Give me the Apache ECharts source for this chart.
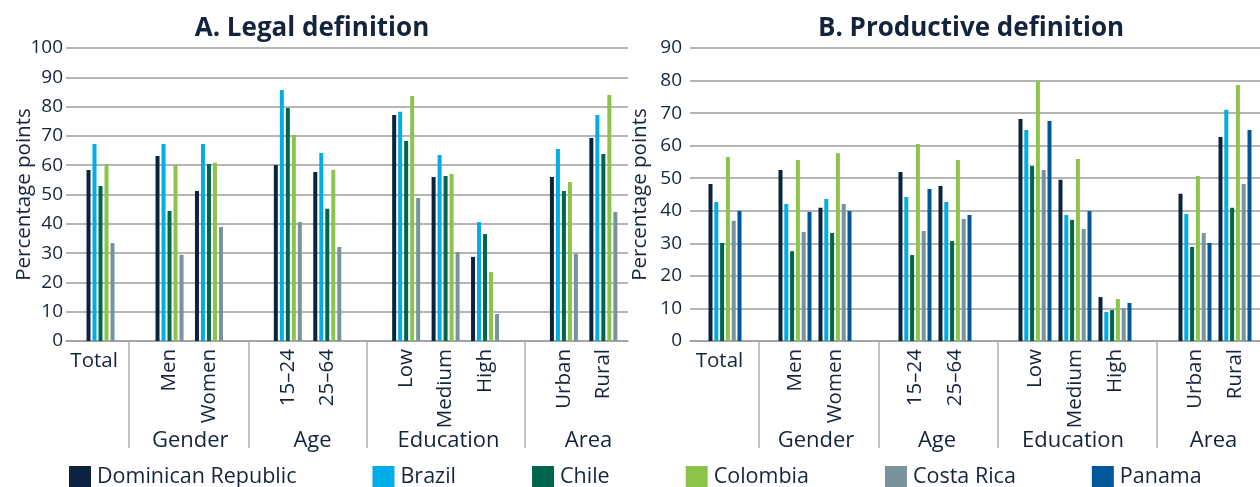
<!DOCTYPE html>
<html>
<head>
<meta charset="utf-8">
<script src="https://cdn.jsdelivr.net/npm/echarts@6/dist/echarts.min.js"></script>
<style>
  html, body { margin: 0; padding: 0; background: #ffffff; }
  #chart { width: 1260px; height: 487px; }
</style>
</head>
<body>
<div id="chart"></div>
<script>
// ---- data ----
const countries = ['Dominican Republic', 'Brazil', 'Chile', 'Colombia', 'Costa Rica', 'Panama'];
const categories = ['Total', 'Men', 'Women', '15–24', '25–64', 'Low', 'Medium', 'High', 'Urban', 'Rural'];
const groupNames = ['Gender', 'Age', 'Education', 'Area'];

// A. Legal definition (no Panama)
const legalDominicanRepublic = [58.4, 63.1, 51.2, 60.1, 57.7, 77.1, 56.0, 28.7, 56.0, 69.3];
const legalBrazil            = [67.2, 67.2, 67.2, 85.7, 64.2, 78.2, 63.5, 40.6, 65.5, 77.1];
const legalChile             = [52.9, 44.4, 60.4, 79.5, 45.1, 68.3, 56.3, 36.5, 51.2, 63.8];
const legalColombia          = [60.4, 60.1, 60.8, 70.3, 58.4, 83.6, 57.0, 23.5, 54.3, 84.0];
const legalCostaRica         = [33.4, 29.4, 38.9, 40.6, 32.1, 48.8, 30.4, 9.2, 29.7, 44.0];

// B. Productive definition
const prodDominicanRepublic = [48.2, 52.5, 40.9, 51.9, 47.6, 68.2, 49.5, 13.5, 45.2, 62.7];
const prodBrazil            = [42.7, 42.1, 43.6, 44.2, 42.7, 64.8, 38.7, 8.9, 39.0, 71.0];
const prodChile             = [30.1, 27.6, 33.2, 26.4, 30.7, 53.8, 37.2, 9.5, 28.9, 40.9];
const prodColombia          = [56.5, 55.6, 57.7, 60.5, 55.6, 80.0, 55.9, 12.9, 50.7, 78.6];
const prodCostaRica         = [36.9, 33.5, 42.1, 33.8, 37.5, 52.5, 34.4, 10.1, 33.2, 48.2];
const prodPanama            = [39.9, 39.6, 39.9, 46.7, 38.7, 67.6, 39.9, 11.7, 30.1, 64.8];

// ---- layout & style ----
const TEXT = '#14243d';
const GRID_LINE = '#9d9d9d';
const FONT = 'Open Sans';
const colors = ['#0c2340', '#00ade6', '#00654f', '#8cc34b', '#78939b', '#00579a'];

// The category axis is split into narrow slots so that sections can be
// separated by gaps; each category sits in one slot.
const SLOT_COUNT = 57;
const SLOT_OF_CATEGORY = [3, 10, 14, 22, 26, 34, 38, 42, 50, 54];

const slotKeys = [];
for (let i = 0; i < SLOT_COUNT; i++) slotKeys.push('_' + i);
SLOT_OF_CATEGORY.forEach((s, k) => { slotKeys[s] = categories[k]; });

function toSlots(values) {
  const out = new Array(SLOT_COUNT).fill(null);
  SLOT_OF_CATEGORY.forEach((s, k) => { out[s] = values[k]; });
  return out;
}

// Section axes, in slot units: spot of the 'Total' label, section name spots, divider ticks
const panels = [
  { title: 'A. Legal definition', titleX: 307, left: 66, width: 562, yMax: 100,
    labelMargin: 3, nameGap: 31,
    totalSpot: 2.85, groupSpots: [12.6, 25.0, 38.8, 53.0], dividers: [6.4, 18.5, 30.5, 46.55],
    series: [legalDominicanRepublic, legalBrazil, legalChile, legalColombia, legalCostaRica],
    barGap: '50%' },
  { title: 'B. Productive definition', titleX: 966, left: 690, width: 570, yMax: 90,
    labelMargin: 8, nameGap: 39,
    totalSpot: 2.95, groupSpots: [12.6, 24.7, 38.3, 52.35], dividers: [6.9, 18.9, 30.8, 46.7],
    series: [prodDominicanRepublic, prodBrazil, prodChile, prodColombia, prodCostaRica, prodPanama],
    barGap: '45%' }
];

function nearestName(spots, names, v) {
  let best = 0;
  spots.forEach((s, i) => { if (Math.abs(s - v) < Math.abs(spots[best] - v)) best = i; });
  return names[best];
}

const option = {
  animation: false,
  textStyle: { fontFamily: FONT, color: TEXT },
  title: panels.map(p => ({
    text: p.title, left: p.titleX, top: 11, textAlign: 'center',
    textStyle: { fontFamily: FONT, fontSize: 26, fontWeight: 'bold', color: TEXT }
  })),
  legend: {
    data: countries, left: 69, top: 466, padding: 0,
    icon: 'rect', itemWidth: 22, itemHeight: 22, itemGap: 76,
    textStyle: { fontFamily: FONT, fontSize: 21.5, color: TEXT, padding: [0, 0, 0, 1] }
  },
  grid: panels.map(p => ({ left: p.left, width: p.width, top: 48, height: 293, containLabel: false })),
  xAxis: [],
  yAxis: [],
  series: []
};

panels.forEach((p, gi) => {
  // category axis: rotated category labels
  option.xAxis.push({
    type: 'category', gridIndex: gi, position: 'bottom', data: slotKeys,
    axisLine: { show: false }, axisTick: { show: false },
    axisLabel: {
      interval: 0, rotate: 90, margin: 8, fontSize: 20.5, color: TEXT, fontFamily: FONT,
      formatter: v => (v.charAt(0) === '_' || v === 'Total') ? '' : v
    }
  });
  // base line, section dividers and the horizontal 'Total' label
  option.xAxis.push({
    type: 'value', gridIndex: gi, position: 'bottom', min: 0, max: SLOT_COUNT,
    splitLine: { show: false },
    axisLine: { show: true, lineStyle: { color: GRID_LINE, width: 1.5 } },
    axisTick: { show: true, customValues: p.dividers, length: 107, lineStyle: { color: '#b0b0b0', width: 1.5 } },
    axisLabel: {
      customValues: [p.totalSpot], margin: 10, fontSize: 20.5, color: TEXT, fontFamily: FONT,
      formatter: () => categories[0]
    }
  });
  // section names
  option.xAxis.push({
    type: 'value', gridIndex: gi, position: 'bottom', min: 0, max: SLOT_COUNT,
    splitLine: { show: false }, axisLine: { show: false }, axisTick: { show: false },
    axisLabel: {
      customValues: p.groupSpots, margin: 89, fontSize: 22, color: TEXT, fontFamily: FONT,
      formatter: v => nearestName(p.groupSpots, groupNames, v)
    }
  });
  option.yAxis.push({
    type: 'value', gridIndex: gi, min: 0, max: p.yMax, interval: 10,
    name: 'Percentage points', nameLocation: 'middle', nameGap: p.nameGap, nameMoveOverlap: false,
    nameTextStyle: { fontFamily: FONT, fontSize: 20.5, color: TEXT },
    axisLine: { show: false }, axisTick: { show: false },
    axisLabel: { margin: p.labelMargin, fontSize: 19, color: TEXT, fontFamily: FONT },
    splitLine: { show: true, lineStyle: { color: GRID_LINE, width: 1.5 } }
  });
  p.series.forEach((vals, si) => {
    option.series.push({
      type: 'bar', name: countries[si], xAxisIndex: gi * 3, yAxisIndex: gi,
      data: toSlots(vals), barWidth: 4, barGap: p.barGap,
      itemStyle: { color: colors[si] }
    });
  });
});

const chart = echarts.init(document.getElementById('chart'), null, { renderer: 'canvas' });
chart.setOption(option);
</script>
</body>
</html>
